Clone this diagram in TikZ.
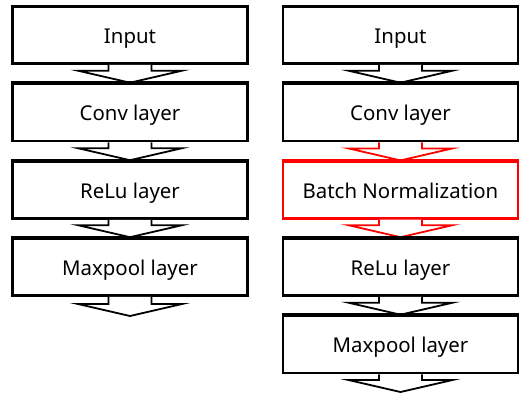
\documentclass[tikz,border=0pt]{standalone}
\usepackage{fontspec}
\setmainfont{Noto Sans}
\usetikzlibrary{calc}
\definecolor{bnred}{RGB}{255,0,0}
\tikzset{
  layerbox/.style={draw=black, line width=2.6pt, fill=white, minimum width=235pt, minimum height=57pt, inner sep=0pt, text height=16.5pt, text depth=0pt, font=\fontsize{20.4}{24}\selectfont},
  redbox/.style={layerbox, draw=bnred, line width=2.2pt},
  fatarrow/.style={draw=black, line width=1.8pt, fill=white, line join=miter},
  redarrow/.style={fatarrow, draw=bnred}
}
\newcommand{\fatarr}[3]{%
  \draw[#3] ($(#1.south)+(-21.5pt,0)$) -- ($(#2)+(-52pt,12pt)$) ++(0,0) -- (#2);%
}
\renewcommand{\fatarr}[3]{%
  \draw[#3] ($(#1.south)+(-21.5pt,0)$) -- ($(#2)+(-21.5pt,12pt)$) -- ($(#2)+(-52pt,12pt)$) -- (#2) -- ($(#2)+(52pt,12pt)$) -- ($(#2)+(21.5pt,12pt)$) -- ($(#1.south)+(21.5pt,0)$);%
}
\begin{document}
\begin{tikzpicture}[x=1pt,y=-1pt]
\useasboundingbox (0,0) rectangle (519,392);
% left column
\node[layerbox] (l1) at (130,35) {Input};
\node[layerbox] (l2) at (130,112.5) {Conv layer};
\node[layerbox] (l3) at (130,190) {ReLu layer};
\node[layerbox] (l4) at (130,267) {Maxpool layer};
\coordinate (lend) at (130,316);
% right column
\node[layerbox] (r1) at (400.5,35) {Input};
\node[layerbox] (r2) at (400.5,112.5) {Conv layer};
\node[redbox] (r3) at (400.5,190) {Batch Normalization};
\node[layerbox] (r4) at (400.5,267) {ReLu layer};
\node[layerbox] (r5) at (400.5,344.5) {Maxpool layer};
\coordinate (rend) at (400.5,392);
% arrows
\fatarr{l1}{l2.north}{fatarrow}
\fatarr{l2}{l3.north}{fatarrow}
\fatarr{l3}{l4.north}{fatarrow}
\fatarr{l4}{lend}{fatarrow}
\fatarr{r1}{r2.north}{fatarrow}
\fatarr{r2}{r3.north}{redarrow}
\fatarr{r3}{r4.north}{redarrow}
\fatarr{r4}{r5.north}{fatarrow}
\fatarr{r5}{rend}{fatarrow}
% redraw top borders so arrow tips sit under them
\foreach \n in {l2,l3,l4,r2,r4,r5} {\draw[line width=2.6pt] (\n.north west) -- (\n.north east);}
\draw[line width=2.2pt, draw=bnred] (r3.north west) -- (r3.north east);
\end{tikzpicture}
\end{document}
